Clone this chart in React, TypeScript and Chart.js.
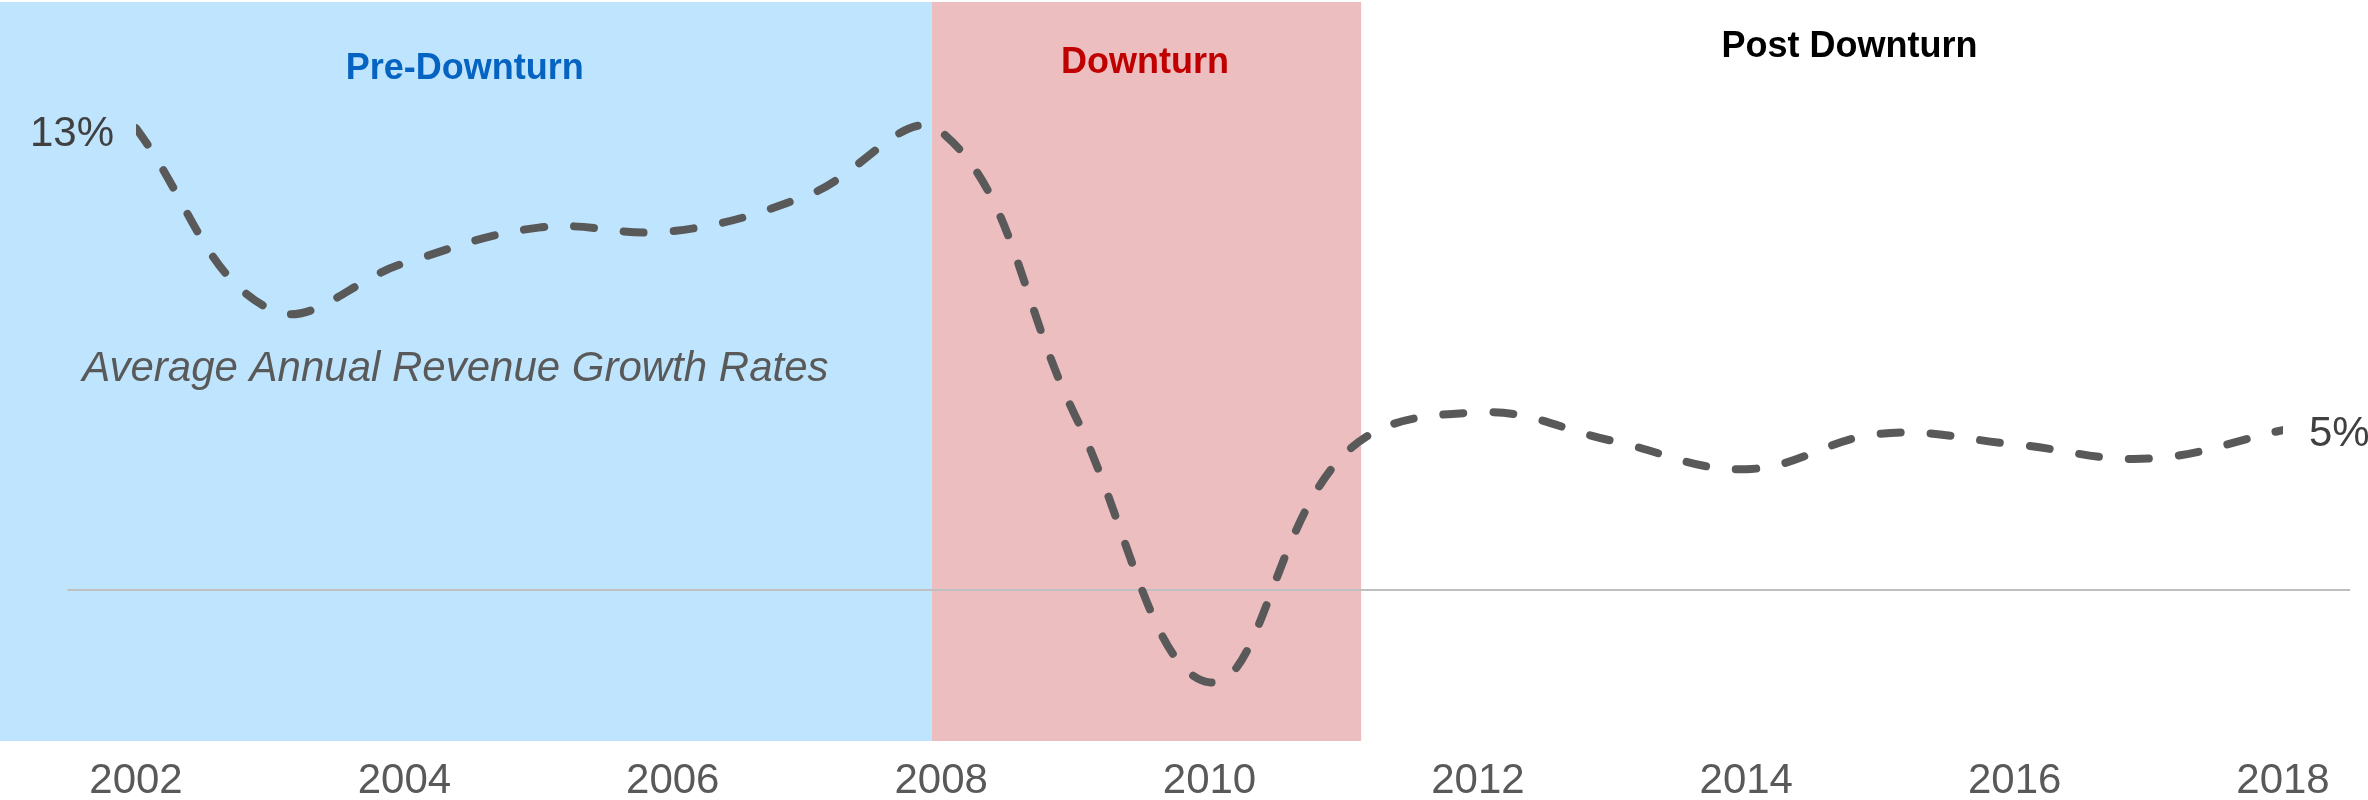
import React, { useEffect, useRef } from "react";
import { Chart, registerables } from "chart.js";

Chart.register(...registerables);

const years = [2002, 2003, 2004, 2005, 2006, 2007, 2008, 2009, 2010, 2011, 2012, 2013, 2014, 2015, 2016, 2017, 2018];
const growth = [13.0, 7.9, 9.2, 10.2, 10.1, 11.1, 12.9, 4.9, -2.6, 3.8, 5.0, 4.2, 3.4, 4.4, 4.1, 3.7, 4.5];
const tickYears = [2002, 2004, 2006, 2008, 2010, 2012, 2014, 2016, 2018];

const periodNames = ["Pre-Downturn", "Downturn", "Post Downturn"];
const periodColors = ["#0563C1", "#C00000", "#000000"];
const periodBands = [
  { from: 2000.98, to: 2007.93, fill: "#BFE4FE" },
  { from: 2007.93, to: 2011.13, fill: "#EDBEBF" },
];
const periodLabelX = [2004.45, 2009.52, 2014.77];
const periodLabelY = [14.67, 14.84, 15.29];

const subtitle = "Average Annual Revenue Growth Rates";
const subtitlePos = { x: 2004.38, y: 6.22 };
const zeroLineSpan = { from: 2001.49, to: 2018.5 };

const FONT = '"Liberation Sans", Arial, sans-serif';

const decorPlugin = {
  id: "decor",
  beforeDatasetsDraw(chart: any) {
    const { ctx, chartArea, scales } = chart;
    const xs = scales.x;
    const ys = scales.y;
    ctx.save();
    periodBands.forEach((b) => {
      const x0 = xs.getPixelForValue(b.from);
      const x1 = xs.getPixelForValue(b.to);
      ctx.fillStyle = b.fill;
      ctx.fillRect(x0, chartArea.top, x1 - x0, chartArea.bottom - chartArea.top);
    });
    const y0 = ys.getPixelForValue(0);
    ctx.strokeStyle = "#BFBFBF";
    ctx.lineWidth = 2;
    ctx.beginPath();
    ctx.moveTo(xs.getPixelForValue(zeroLineSpan.from), y0);
    ctx.lineTo(xs.getPixelForValue(zeroLineSpan.to), y0);
    ctx.stroke();
    ctx.textAlign = "center";
    ctx.textBaseline = "middle";
    ctx.font = `bold 36px ${FONT}`;
    periodNames.forEach((n, i) => {
      ctx.fillStyle = periodColors[i];
      ctx.fillText(n, xs.getPixelForValue(periodLabelX[i]), ys.getPixelForValue(periodLabelY[i]));
    });
    ctx.font = `italic 42px ${FONT}`;
    ctx.fillStyle = "#595959";
    ctx.fillText(subtitle, xs.getPixelForValue(subtitlePos.x), ys.getPixelForValue(subtitlePos.y));
    ctx.restore();
  },
  afterDatasetsDraw(chart: any) {
    const { ctx, scales } = chart;
    const xs = scales.x;
    const ys = scales.y;
    ctx.save();
    ctx.font = `42px ${FONT}`;
    ctx.fillStyle = "#404040";
    ctx.textBaseline = "middle";
    const first = growth[0];
    const last = growth[growth.length - 1];
    ctx.textAlign = "right";
    ctx.fillText(`${Math.round(first)}%`, xs.getPixelForValue(years[0]) - 22, ys.getPixelForValue(first) + 6);
    ctx.textAlign = "left";
    ctx.fillText(`${Math.round(last)}%`, xs.getPixelForValue(years[years.length - 1]) + 26, ys.getPixelForValue(last) + 4);
    ctx.restore();
  },
};

export default function App() {
  const ref = useRef<HTMLCanvasElement>(null);
  useEffect(() => {
    document.body.style.margin = "0";
    const canvas = ref.current;
    if (!canvas) return;
    const chart = new Chart(canvas, {
      type: "line",
      data: {
        datasets: [
          {
            data: years.map((y, i) => ({ x: y, y: growth[i] })),
            borderColor: "#595959",
            borderWidth: 8,
            borderDash: [20, 30],
            borderCapStyle: "round",
            tension: 0.4,
            pointRadius: 0,
            fill: false,
          },
        ],
      },
      options: {
        animation: false,
        responsive: false,
        devicePixelRatio: 1,
        layout: { padding: { left: 136, right: 85, top: 2, bottom: 0 } },
        plugins: { legend: { display: false }, tooltip: { enabled: false } },
        scales: {
          x: {
            type: "linear",
            min: 2002,
            max: 2018,
            grid: { display: false, drawTicks: false },
            border: { display: false },
            afterBuildTicks: (axis: any) => {
              axis.ticks = tickYears.map((v) => ({ value: v }));
            },
            afterFit: (axis: any) => {
              axis.height = 59;
            },
            ticks: {
              callback: (v: any) => String(v),
              color: "#595959",
              font: { family: FONT, size: 42, lineHeight: 1 },
              padding: 19,
              maxRotation: 0,
              autoSkip: false,
            },
          },
          y: {
            display: false,
            min: -4.25,
            max: 16.55,
          },
        },
      },
      plugins: [decorPlugin],
    } as any);
    return () => chart.destroy();
  }, []);
  return (
    <div style={{ width: 2368, height: 800 }}>
      <canvas ref={ref} width={2368} height={800} style={{ display: "block" }} />
    </div>
  );
}
